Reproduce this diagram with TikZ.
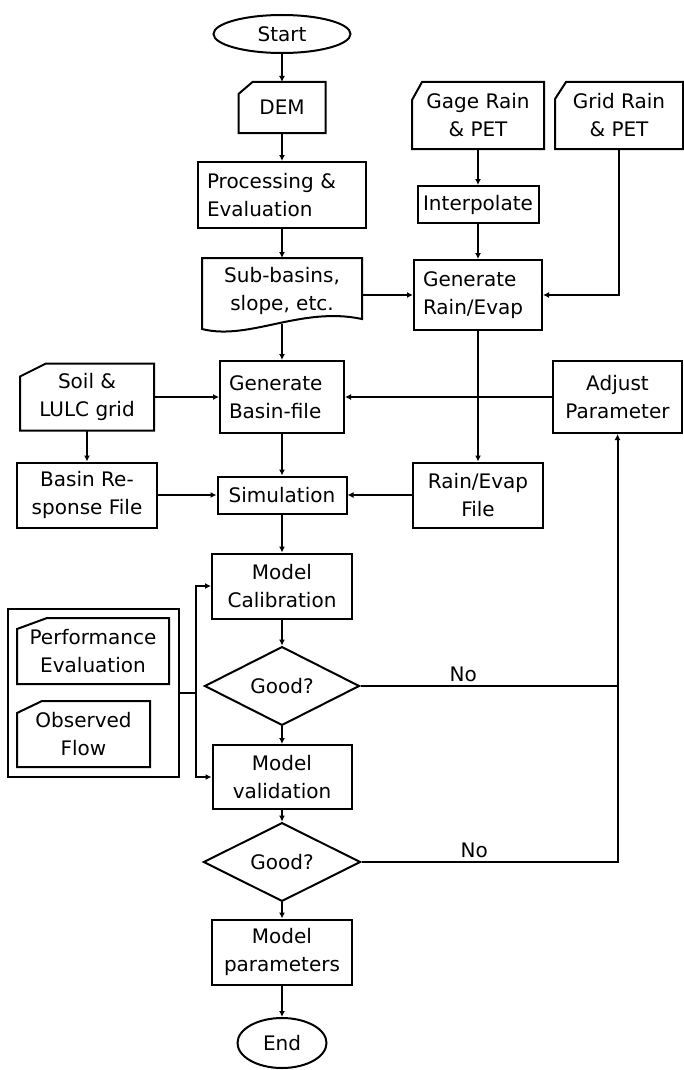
\documentclass[tikz,border=0pt]{standalone}
\usepackage{fontspec}
\setmainfont{DejaVu Sans}
\usetikzlibrary{shapes.geometric,arrows.meta,fit,positioning}

\begin{document}
\begin{tikzpicture}[x=1pt,y=-1pt,line width=2pt,font=\fontsize{20}{28}\selectfont,
	>={Latex[length=6pt,width=6pt]}]
	\tikzset{box/.style={draw,rectangle,align=center,inner sep=0pt}}
	\tikzset{lbox/.style={draw,rectangle,align=left,inner sep=9pt}}
	\tikzset{card/.style={rectangle,align=center,inner sep=0pt}}
	\tikzset{term/.style={draw,ellipse,inner sep=0pt}}
	\tikzset{test/.style={draw,diamond,inner sep=0pt}}
	\useasboundingbox (0,0) rectangle (683,1070);

	%% main column
	\node[term,minimum width=137pt,minimum height=38pt] (start) at (282,34) {Start};
	\node[card,minimum width=85pt,minimum height=49pt] (dem) at (282,107.5) {DEM};
	\node[lbox,text width=150pt,minimum height=66pt] (proc) at (282,195) {Processing \&\\Evaluation};
	\node[card,minimum width=158pt,minimum height=64pt] (subb) at (282,291) {Sub-basins,\\slope, etc.};
	\node[lbox,text width=106pt,minimum height=72pt] (genbas) at (282,397) {Generate\\Basin-file};
	\node[box,minimum width=129pt,minimum height=37pt] (sim) at (282,495) {Simulation};
	\node[box,minimum width=140pt,minimum height=65pt] (calib) at (282,586) {Model\\Calibration};
	\node[test,minimum width=155pt,minimum height=63pt] (good1) at (282,686) {Good?};
	\node[box,minimum width=139pt,minimum height=64pt] (valid) at (282,777) {Model\\validation};
	\node[test,minimum width=157pt,minimum height=63pt] (good2) at (282,862) {Good?};
	\node[box,minimum width=140pt,minimum height=65pt] (params) at (282,952) {Model\\parameters};
	\node[term,minimum width=89pt,minimum height=50pt] (endn) at (282,1043) {End};

	%% rain side
	\node[card,minimum width=130pt,minimum height=65pt] (gage) at (478,115.5) {Gage Rain\\\& PET};
	\node[card,minimum width=126pt,minimum height=65pt] (grid) at (619,115.5) {Grid Rain\\\& PET};
	\node[box,minimum width=121pt,minimum height=37pt] (interp) at (478,204.5) {Interpolate};
	\node[lbox,text width=110pt,minimum height=70pt] (genrain) at (478,295) {Generate\\Rain/Evap};
	\node[box,minimum width=129pt,minimum height=72pt] (adjust) at (617.5,397) {Adjust\\Parameter};
	\node[box,minimum width=130pt,minimum height=65pt] (rainfile) at (478,495) {Rain/Evap\\File};

	%% left side
	\node[card,minimum width=132pt,minimum height=65pt] (soil) at (87,397) {Soil \&\\LULC grid};
	\node[box,minimum width=140pt,minimum height=65pt] (basinresp) at (87,495) {Basin Re-\\sponse File};
	\node[card,minimum width=150pt,minimum height=64pt] (perf) at (93,651) {Performance\\Evaluation};
	\node[card,minimum width=131pt,minimum height=64pt] (obs) at (83.5,734) {Observed\\Flow};
	\node[draw,rectangle,inner sep=9.5pt,fit=(perf)(obs)] (inputs) {};
	\coordinate (split) at ([xshift=16pt]inputs.east);

	%% card and document outlines
	\foreach \n/\cx/\cy in {dem/14/12,gage/10/18,grid/11/17,soil/26/13,perf/30/11,obs/25/12}
		\draw ([yshift=-\cy pt]\n.north west) -- ([xshift=\cx pt]\n.north west) -- (\n.north east)
			-- (\n.south east) -- (\n.south west) -- cycle;
	\draw ([yshift=5pt]subb.south east) -- (subb.north east) -- (subb.north west) -- ([yshift=-5pt]subb.south west)
		.. controls +(47,12) and +(-61,-13) .. ([yshift=5pt]subb.south east) -- cycle;

	\path[->]
		(start) edge (dem)
		(dem) edge (proc)
		(proc) edge (subb)
		(subb) edge (genbas)
		(subb.east |- genrain.west) edge (genrain.west)
		(gage) edge (interp)
		(interp) edge (genrain)
		(genrain) edge (rainfile)
		(adjust) edge (genbas)
		(soil) edge (genbas)
		(soil) edge (basinresp)
		(basinresp) edge (sim)
		(rainfile) edge (sim)
		(genbas) edge (sim)
		(sim) edge (calib)
		(calib) edge (good1)
		(good1) edge (valid)
		(valid) edge (good2)
		(good2) edge (params)
		(params) edge (endn);
	\draw[->] (grid.south) |- (genrain.east);

	%% loops back
	\draw (good1.east) -- node[above,pos=0.4] {No} (good1.east -| adjust.south);
	\draw[->] (good2.east) -| node[above,pos=0.22] {No} (adjust.south);
	\draw (inputs.east) -- (split);
	\draw[->] (split) |- (calib.west);
	\draw[->] (split) |- (valid.west);
\end{tikzpicture}
\end{document}
